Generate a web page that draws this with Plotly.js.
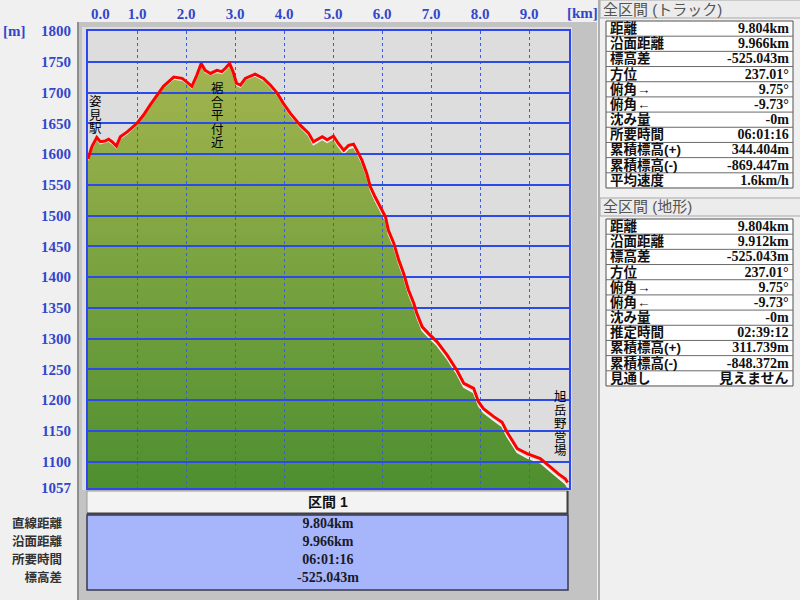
<!DOCTYPE html>
<html><head><meta charset="utf-8">
<script src="https://cdn.plot.ly/plotly-3.0.1.min.js"></script>
<style>html,body{margin:0;padding:0;background:#f0f0f0;overflow:hidden}#chart{width:800px;height:600px}</style>
</head><body><div id="chart"></div>
<script>
// ---- data ----
const distanceKm = [0.00,0.08,0.18,0.25,0.35,0.42,0.49,0.58,0.66,0.80,1.00,1.13,1.27,1.41,1.54,1.75,1.92,2.02,2.12,2.22,2.31,2.39,2.50,2.63,2.73,2.80,2.89,2.96,3.03,3.11,3.21,3.41,3.58,3.72,3.86,3.99,4.13,4.33,4.50,4.60,4.67,4.78,4.88,5.01,5.11,5.22,5.32,5.42,5.52,5.59,5.69,5.76,5.86,5.97,6.07,6.13,6.24,6.34,6.44,6.54,6.65,6.71,6.82,6.95,7.12,7.33,7.53,7.67,7.87,7.97,8.07,8.28,8.45,8.55,8.76,8.96,9.23,9.44,9.60,9.74,9.79];
const trackElev = [1592,1612,1627,1620,1621,1624,1620,1613,1628,1636,1650,1663,1680,1696,1710,1725,1723,1717,1710,1728,1747,1736,1731,1736,1734,1739,1747,1734,1715,1712,1723,1730,1723,1712,1699,1682,1666,1647,1634,1620,1623,1628,1623,1629,1617,1606,1614,1616,1601,1590,1568,1547,1530,1514,1498,1476,1455,1428,1406,1379,1357,1341,1319,1308,1295,1273,1248,1227,1219,1197,1186,1173,1164,1148,1121,1113,1105,1091,1080,1072,1066];
const terrainElev = [1590,1609,1624,1617,1619,1621,1617,1610,1625,1633,1648,1661,1678,1694,1708,1722,1720,1715,1707,1725,1744,1733,1729,1733,1731,1736,1744,1731,1712,1709,1721,1727,1720,1709,1696,1679,1663,1644,1630,1615,1618,1624,1619,1625,1612,1601,1609,1611,1597,1585,1563,1542,1524,1508,1492,1470,1449,1422,1400,1373,1351,1335,1313,1302,1289,1267,1242,1221,1212,1191,1180,1167,1157,1141,1115,1106,1098,1084,1073,1064,1058];
const yTickVals = [1057,1100,1150,1200,1250,1300,1350,1400,1450,1500,1550,1600,1650,1700,1750,1800];
const yTickText = ['1057','1100','1150','1200','1250','1300','1350','1400','1450','1500','1550','1600','1650','1700','1750','1800'];
const xTickVals = [0,1,2,3,4,5,6,7,8,9];
const xTickText = ['0.0','1.0','2.0','3.0','4.0','5.0','6.0','7.0','8.0','9.0'];
const xUnit = '[km]';
const yUnit = '[m]';
const placeNames = ['姿見駅','裾合平付近','旭岳野営場'];
const sectionTitle = '区間 1';
const sectionLabels = ['直線距離','沿面距離','所要時間','標高差'];
const sectionValues = ['9.804km','9.966km','06:01:16','-525.043m'];
const trackTitle = '全区間 (トラック)';
const trackLabels = ['距離','沿面距離','標高差','方位','俯角→','俯角←','沈み量','所要時間','累積標高(+)','累積標高(-)','平均速度'];
const trackValues = ['9.804km','9.966km','-525.043m','237.01°','9.75°','-9.73°','-0m','06:01:16','344.404m','-869.447m','1.6km/h'];
const terrainTitle = '全区間 (地形)';
const terrainLabels = ['距離','沿面距離','標高差','方位','俯角→','俯角←','沈み量','推定時間','累積標高(+)','累積標高(-)','見通し'];
const terrainValues = ['9.804km','9.912km','-525.043m','237.01°','9.75°','-9.73°','-0m','02:39:12','311.739m','-848.372m','見えません'];

// ---- layout helpers (pixel -> paper) ----
const W=800,H=600,ML=88,MR=231,MT=31,MB=112;
const PW=W-ML-MR, PH=H-MT-MB;
const fx = p => (p-ML)/PW;
const fy = p => 1-(p-MT)/PH;
const NUMFONT = 'Liberation Serif, Noto Sans CJK JP, serif';
const JPFONT = 'Liberation Sans, Noto Sans CJK JP, sans-serif';
const TICKBLUE = '#3346cc';
const shapes = [];
const annotations = [];
function rect(x0,y0,x1,y1,fill,line,lw){shapes.push({type:'rect',xref:'paper',yref:'paper',x0:fx(x0),x1:fx(x1),y0:fy(y0),y1:fy(y1),fillcolor:fill,line:{color:line||'rgba(0,0,0,0)',width:lw||0},layer:'below'});}
function hline(x0,x1,y,c,w){shapes.push({type:'line',xref:'paper',yref:'paper',x0:fx(x0),x1:fx(x1),y0:fy(y),y1:fy(y),line:{color:c,width:w},layer:'below'});}
function vline(x,y0,y1,c,w){shapes.push({type:'line',xref:'paper',yref:'paper',x0:fx(x),x1:fx(x),y0:fy(y0),y1:fy(y1),line:{color:c,width:w},layer:'below'});}
function txt(x,y,s,anchor,font,align){annotations.push({xref:'paper',yref:'paper',x:fx(x),y:fy(y),text:s,showarrow:false,xanchor:anchor,yanchor:'middle',align:align||'center',font:font,borderpad:0});}
// stacked lines: the line pitch comes from the base font size (pitch/1.3), glyph size from the span
function colTxt(x,yFirst,pitch,lines,glyph,anchor,font){
  const text=lines.map(l=>'<span style="font-size:'+glyph+'px">'+l+'</span>').join('<br>');
  const f=Object.assign({},font,{size:pitch/1.3});
  txt(x,yFirst+pitch*(lines.length-1)/2,text,anchor,f,anchor==='center'?'center':anchor);
}

// frame & plot background
rect(77,22,597,600,'#c3c3c3');
vline(78,22,600,'#8e8e8e',2);
rect(82,27,572,490,'#dddddd');

// axis extras
txt(90,14,xTickText[0],'left',{family:NUMFONT,size:15,color:TICKBLUE,weight:'bold'});
txt(582.5,13,xUnit,'center',{family:NUMFONT,size:15,color:TICKBLUE,weight:'bold'});
txt(2,31,yUnit,'left',{family:NUMFONT,size:15,color:TICKBLUE,weight:'bold'});

// vertical place names (one character per line)
const placePos = [[95,102],[217,89],[560,397]];
placeNames.forEach((n,i)=>{
  colTxt(placePos[i][0],placePos[i][1],13.5,Array.from(n),12.5,'center',{family:JPFONT,color:'#000'});
});

// bottom section table
rect(87,491,568,514,'#f3f3f3','#9a9a9a',1);
hline(87,568,513.5,'#404040',2);
vline(567.5,491,514,'#404040',2);
rect(87,515,568,590,'#a7b5fb','#383850',1.5);
txt(327.5,502,sectionTitle,'center',{family:JPFONT,size:14,color:'#111',weight:'bold'});
colTxt(64,523,18,sectionLabels,12.5,'right',{family:JPFONT,color:'#333',weight:'bold'});
colTxt(327.5,523,18,sectionValues,14,'center',{family:NUMFONT,color:'#1a1a2a',weight:'bold'});

// right panel
vline(599,0,600,'#9a9a9a',1.5);
function panel(title,labels,values,top){
  rect(600,top-21,801,top-3,'#ececec','#a8a8a8',1);
  txt(602,top-12,title,'left',{family:JPFONT,size:15,color:'#555'});
  const rowH=15.18, bot=top+rowH*labels.length;
  rect(606,top,793,bot,'#ffffff','#505050',1);
  for(let i=1;i<labels.length;i++) hline(606,793,top+rowH*i,'#6a6a6a',1);
  colTxt(609,top+rowH*0.5,rowH,labels,13.5,'left',{family:JPFONT,color:'#111',weight:'bold'});
  colTxt(790,top+rowH*0.5,rowH,values,14,'right',{family:NUMFONT,color:'#111',weight:'bold'});
}
panel(trackTitle,trackLabels,trackValues,21);
panel(terrainTitle,terrainLabels,terrainValues,219);

const XR=[0,PW/49];
const data = [
  {type:'scatter',mode:'lines',x:distanceKm,y:terrainElev,xaxis:'x',yaxis:'y',fill:'tozeroy',
   fillgradient:{type:'vertical',colorscale:[[0,'#4e8f30'],[1,'#a3b54f']],start:1057,stop:1750},
   line:{color:'#f2f2f2',width:1.5},hoverinfo:'skip'},
  {type:'scatter',mode:'lines',x:distanceKm,y:trackElev,xaxis:'x2',yaxis:'y2',
   line:{color:'#ff0000',width:3},hoverinfo:'skip'}
];
const layout = {
  width:W,height:H,margin:{l:ML,r:MR,t:MT,b:MB,pad:0},
  paper_bgcolor:'#f0f0f0',plot_bgcolor:'rgba(0,0,0,0)',showlegend:false,
  xaxis:{domain:[0,1],anchor:'y',range:XR,visible:false,fixedrange:true},
  yaxis:{domain:[0,1],anchor:'x',range:[1057,1800],visible:false,fixedrange:true},
  xaxis2:{domain:[0,1],anchor:'y2',range:XR,side:'top',tickmode:'array',tickvals:xTickVals.slice(1),ticktext:xTickText.slice(1),
    showgrid:true,gridcolor:'#3a5ae8',gridwidth:1,griddash:'dot',zeroline:false,showline:true,mirror:true,
    linecolor:'#2f45f0',linewidth:2,ticks:'',tickfont:{family:NUMFONT,size:15,color:TICKBLUE,weight:'bold'},ticklabelstandoff:4,fixedrange:true},
  yaxis2:{domain:[0,1],anchor:'x2',range:[1057,1800],tickmode:'array',tickvals:yTickVals,ticktext:yTickText,
    showgrid:true,gridcolor:'#2b4ae6',gridwidth:2,zeroline:false,showline:true,mirror:true,
    linecolor:'#2f45f0',linewidth:2,ticks:'',tickfont:{family:NUMFONT,size:15,color:TICKBLUE,weight:'bold'},ticklabelstandoff:12,fixedrange:true},
  shapes:shapes,annotations:annotations
};
Plotly.newPlot('chart',data,layout,{staticPlot:true,displayModeBar:false});
</script></body></html>
